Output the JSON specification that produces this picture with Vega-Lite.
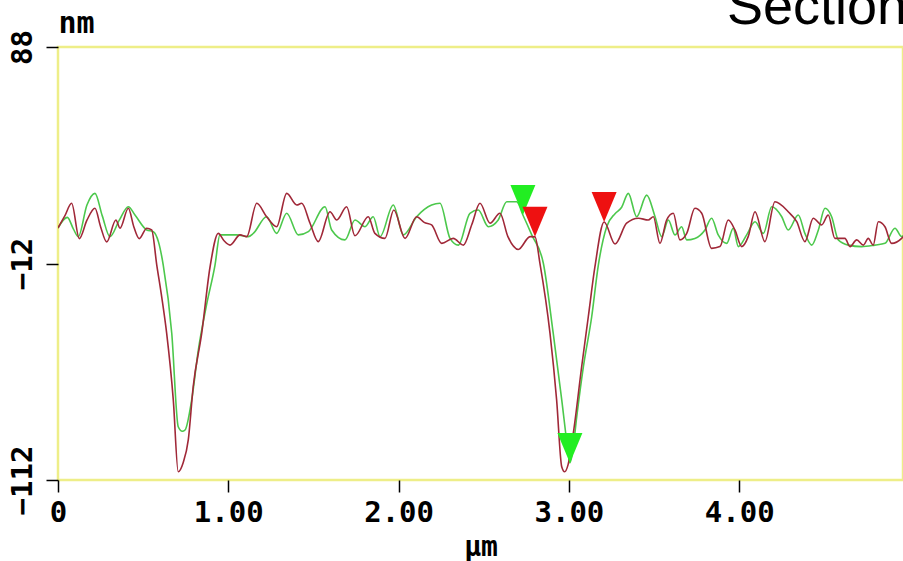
{
  "$schema": "https://vega.github.io/schema/vega-lite/v6.json",
  "width": 845,
  "height": 433,
  "autosize": {"type": "none"},
  "padding": {"left": 58, "top": 47, "right": 0, "bottom": 81},
  "background": "white",
  "title": {"text": "Section", "anchor": "end", "frame": "group", "font": "Liberation Sans", "fontSize": 54, "fontWeight": "normal", "color": "black", "baseline": "alphabetic", "offset": 0, "dy": 70, "dx": 4},
  "config": {"view": {"stroke": "#eeee88", "strokeWidth": 2.5}},
  "datasets": {
    "red": [
      {"x":0.000,"nm":4.4},{"x":0.040,"nm":10},{"x":0.080,"nm":15.8},{"x":0.125,"nm":-0.5},{"x":0.170,"nm":8},{"x":0.217,"nm":13.5},{"x":0.250,"nm":5},{"x":0.286,"nm":-2.0},{"x":0.340,"nm":8.1},{"x":0.364,"nm":4.3},{"x":0.413,"nm":13.5},{"x":0.445,"nm":5},{"x":0.477,"nm":-0.5},{"x":0.521,"nm":4.3},{"x":0.550,"nm":3.5},{"x":0.580,"nm":-12.7},{"x":0.610,"nm":-28},{"x":0.638,"nm":-44.2},{"x":0.677,"nm":-75.0},{"x":0.706,"nm":-108.2},{"x":0.735,"nm":-104},{"x":0.765,"nm":-93.5},{"x":0.794,"nm":-68.9},{"x":0.844,"nm":-44.2},{"x":0.893,"nm":-13.5},{"x":0.941,"nm":1.9},{"x":0.975,"nm":-1.5},{"x":1.010,"nm":-3.5},{"x":1.069,"nm":1.2},{"x":1.108,"nm":0.4},{"x":1.167,"nm":15.8},{"x":1.225,"nm":9.6},{"x":1.284,"nm":5.0},{"x":1.343,"nm":20.4},{"x":1.402,"nm":15.0},{"x":1.431,"nm":15.8},{"x":1.480,"nm":6.6},{"x":1.528,"nm":-1.9},{"x":1.597,"nm":11.9},{"x":1.637,"nm":8.1},{"x":1.695,"nm":14.2},{"x":1.744,"nm":0.8},{"x":1.822,"nm":9.6},{"x":1.861,"nm":1.9},{"x":1.920,"nm":-0.4},{"x":1.972,"nm":12.7},{"x":2.038,"nm":-0.4},{"x":2.106,"nm":9.6},{"x":2.150,"nm":7},{"x":2.194,"nm":5.8},{"x":2.253,"nm":-2.7},{"x":2.321,"nm":-0.4},{"x":2.380,"nm":-3.5},{"x":2.430,"nm":6},{"x":2.478,"nm":15.8},{"x":2.537,"nm":6.6},{"x":2.595,"nm":11.2},{"x":2.642,"nm":0.4},{"x":2.703,"nm":-5.5},{"x":2.772,"nm":0.4},{"x":2.801,"nm":0.3},{"x":2.830,"nm":-11.9},{"x":2.889,"nm":-44.2},{"x":2.928,"nm":-75.0},{"x":2.958,"nm":-105.9},{"x":2.975,"nm":-108.2},{"x":2.995,"nm":-105},{"x":3.026,"nm":-90.4},{"x":3.075,"nm":-59.7},{"x":3.114,"nm":-36.6},{"x":3.153,"nm":-13.5},{"x":3.207,"nm":7.2},{"x":3.271,"nm":-3.0},{"x":3.339,"nm":6.6},{"x":3.408,"nm":8.9},{"x":3.466,"nm":8.1},{"x":3.496,"nm":9.6},{"x":3.535,"nm":-2.7},{"x":3.574,"nm":8.1},{"x":3.613,"nm":11.2},{"x":3.652,"nm":-1.1},{"x":3.692,"nm":1.9},{"x":3.740,"nm":13.5},{"x":3.780,"nm":11.2},{"x":3.838,"nm":-5.0},{"x":3.887,"nm":-4.2},{"x":3.936,"nm":8.1},{"x":3.975,"nm":3.5},{"x":4.015,"nm":-4.2},{"x":4.053,"nm":0.4},{"x":4.093,"nm":11.9},{"x":4.151,"nm":-1.9},{"x":4.210,"nm":16.5},{"x":4.288,"nm":11.9},{"x":4.338,"nm":7.3},{"x":4.386,"nm":-1.9},{"x":4.435,"nm":8.9},{"x":4.484,"nm":5.8},{"x":4.523,"nm":10.4},{"x":4.562,"nm":-0.4},{"x":4.621,"nm":-0.4},{"x":4.651,"nm":-4.2},{"x":4.690,"nm":-1.1},{"x":4.729,"nm":-3.5},{"x":4.758,"nm":-0.4},{"x":4.787,"nm":-3.5},{"x":4.817,"nm":7.3},{"x":4.856,"nm":5.0},{"x":4.895,"nm":-2.7},{"x":4.954,"nm":-0.4},{"x":4.975,"nm":1.5}
    ],
    "green": [
      {"x":0.000,"nm":4.4},{"x":0.055,"nm":9.3},{"x":0.090,"nm":4},{"x":0.119,"nm":0.4},{"x":0.170,"nm":15},{"x":0.217,"nm":20.4},{"x":0.260,"nm":10},{"x":0.305,"nm":0.4},{"x":0.360,"nm":8},{"x":0.413,"nm":14.2},{"x":0.452,"nm":10.4},{"x":0.521,"nm":3.5},{"x":0.560,"nm":2.7},{"x":0.590,"nm":-2},{"x":0.618,"nm":-12.7},{"x":0.668,"nm":-44.2},{"x":0.706,"nm":-87.4},{"x":0.730,"nm":-89.5},{"x":0.746,"nm":-88.9},{"x":0.785,"nm":-75.0},{"x":0.824,"nm":-52.0},{"x":0.870,"nm":-32},{"x":0.922,"nm":-12.7},{"x":0.951,"nm":1.2},{"x":1.049,"nm":1.2},{"x":1.117,"nm":0.4},{"x":1.147,"nm":1.9},{"x":1.225,"nm":9.6},{"x":1.284,"nm":1.9},{"x":1.343,"nm":11.2},{"x":1.411,"nm":1.2},{"x":1.470,"nm":2.7},{"x":1.568,"nm":14.2},{"x":1.607,"nm":3.5},{"x":1.685,"nm":-1.1},{"x":1.744,"nm":8.1},{"x":1.803,"nm":5.0},{"x":1.851,"nm":9.6},{"x":1.891,"nm":0.4},{"x":1.969,"nm":15.0},{"x":2.028,"nm":1.2},{"x":2.106,"nm":9.6},{"x":2.194,"nm":15.0},{"x":2.243,"nm":15.8},{"x":2.302,"nm":-0.4},{"x":2.351,"nm":-3.5},{"x":2.419,"nm":11.2},{"x":2.468,"nm":12.7},{"x":2.527,"nm":5.0},{"x":2.585,"nm":8.1},{"x":2.635,"nm":16.5},{"x":2.693,"nm":16.5},{"x":2.730,"nm":10.4},{"x":2.782,"nm":1.2},{"x":2.850,"nm":-11.9},{"x":2.908,"nm":-44.2},{"x":2.958,"nm":-75.0},{"x":2.997,"nm":-99.7},{"x":3.006,"nm":-104.1},{"x":3.020,"nm":-100},{"x":3.046,"nm":-82.8},{"x":3.085,"nm":-59.7},{"x":3.134,"nm":-36.6},{"x":3.173,"nm":-12.7},{"x":3.222,"nm":5.0},{"x":3.271,"nm":11.0},{"x":3.310,"nm":14.0},{"x":3.349,"nm":20.4},{"x":3.398,"nm":9.6},{"x":3.457,"nm":19.6},{"x":3.506,"nm":9.6},{"x":3.545,"nm":0.4},{"x":3.584,"nm":8.1},{"x":3.623,"nm":1.2},{"x":3.662,"nm":5.0},{"x":3.692,"nm":-1.1},{"x":3.740,"nm":-0.4},{"x":3.799,"nm":3.5},{"x":3.838,"nm":8.9},{"x":3.877,"nm":1.2},{"x":3.927,"nm":-2.7},{"x":3.965,"nm":4.3},{"x":3.995,"nm":-4.2},{"x":4.044,"nm":1.2},{"x":4.093,"nm":7.3},{"x":4.142,"nm":1.9},{"x":4.191,"nm":14.2},{"x":4.250,"nm":9.6},{"x":4.288,"nm":3.5},{"x":4.347,"nm":10.4},{"x":4.386,"nm":1.9},{"x":4.426,"nm":-3.5},{"x":4.465,"nm":3.5},{"x":4.504,"nm":13.5},{"x":4.543,"nm":9.6},{"x":4.582,"nm":-1.1},{"x":4.641,"nm":-3.5},{"x":4.719,"nm":-4.2},{"x":4.797,"nm":-3.5},{"x":4.856,"nm":-2.7},{"x":4.915,"nm":4.3},{"x":4.954,"nm":0.4},{"x":4.975,"nm":2.0}
    ],
    "markers": [
      {"x":2.730,"nm":10.4,"c":"green"},
      {"x":2.801,"nm":0.3,"c":"red"},
      {"x":3.207,"nm":7.2,"c":"red"},
      {"x":3.006,"nm":-104.1,"c":"green"}
    ]
  },
  "encoding": {
    "x": {"field": "x", "type": "quantitative",
      "scale": {"domain": [0, 4.962], "nice": false, "zero": false},
      "axis": {"orient": "bottom", "values": [0, 1, 2, 3, 4],
        "labelExpr": "datum.value == 0 ? '0' : format(datum.value, '.2f')",
        "domain": false, "grid": false, "ticks": true, "tickColor": "black", "tickSize": 12, "tickWidth": 1.5,
        "labelFont": "DejaVu Sans Mono", "labelFontWeight": "bold", "labelFontSize": 29, "labelColor": "black",
        "labelPadding": 6, "labelFlush": false, "labelOverlap": false, "labelBound": false,
        "title": "µm", "titleFont": "DejaVu Sans Mono", "titleFontWeight": "bold", "titleFontSize": 28, "titleColor": "black", "titlePadding": 6}},
    "y": {"field": "nm", "type": "quantitative",
      "scale": {"domain": [-112, 88], "nice": false, "zero": false},
      "axis": {"orient": "left", "values": [88, -12, -112],
        "labelAngle": 270, "labelAlign": "center", "labelBaseline": "bottom",
        "domain": false, "grid": false, "tickColor": "black", "tickSize": 12, "tickWidth": 1.5,
        "labelFont": "DejaVu Sans Mono", "labelFontWeight": "bold", "labelFontSize": 29, "labelColor": "black",
        "labelPadding": 9, "labelFlush": false, "labelOverlap": false, "labelBound": false,
        "title": "nm", "titleAngle": 0, "titleX": 0, "titleY": -15, "titleAlign": "left", "titleBaseline": "alphabetic",
        "titleFont": "DejaVu Sans Mono", "titleFontWeight": "bold", "titleFontSize": 30, "titleColor": "black"}}
  },
  "layer": [
    {"mark": {"type": "rule", "color": "#3fcc3f", "strokeWidth": 2}, "encoding": {"x": null, "y": {"datum": -12, "type": "quantitative"}}},
    {"data": {"name": "green"}, "mark": {"type": "line", "color": "#4cc84c", "strokeWidth": 1.6, "clip": true, "interpolate": "monotone"}},
    {"data": {"name": "red"}, "mark": {"type": "line", "color": "#a02838", "strokeWidth": 1.6, "clip": true, "interpolate": "monotone"}},
    {"data": {"name": "markers"}, "mark": {"type": "point", "shape": "M-0.833,-2L0.833,-2L0,0Z", "size": 900, "filled": true, "opacity": 1, "strokeWidth": 0},
      "encoding": {"color": {"field": "c", "type": "nominal", "scale": {"domain": ["green", "red"], "range": ["#22ee22", "#ee1111"]}, "legend": null}}}
  ]
}
